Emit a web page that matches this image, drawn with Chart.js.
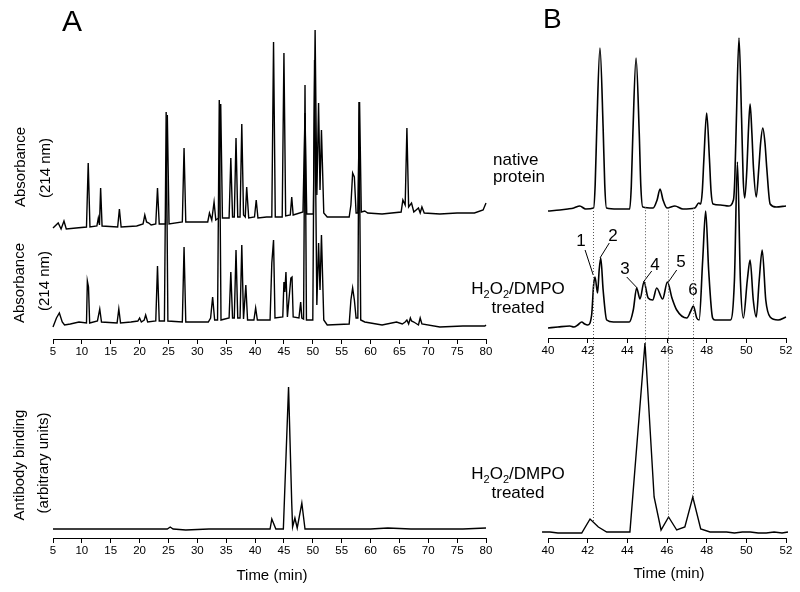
<!DOCTYPE html>
<html>
<head>
<meta charset="utf-8">
<script src="https://cdn.jsdelivr.net/npm/chart.js@4"></script>
<style>
  body { margin: 0; background: #fff; }
  #wrap { position: relative; width: 800px; height: 592px; overflow: hidden; font-family: "Liberation Sans", Arial, sans-serif; color: #000; }
  canvas { position: absolute; top: 0; }
  .t { position: absolute; white-space: nowrap; line-height: 1; }
  .c { position: absolute; text-align: center; width: 140px; font-size: 17px; line-height: 17px; white-space: nowrap; }
  .r { position: absolute; white-space: nowrap; font-size: 15px; line-height: 15px; transform: translate(-50%, -50%) rotate(-90deg); }
  sub { font-size: 11px; line-height: 0; vertical-align: -4px; }
</style>
</head>
<body>
<div id="wrap">
  <canvas id="aTop" width="500" height="362" style="left:0"></canvas>
  <canvas id="aBottom" width="500" height="561" style="left:0"></canvas>
  <canvas id="bTop" width="300" height="361" style="left:500px"></canvas>
  <canvas id="bBottom" width="300" height="561" style="left:500px"></canvas>

  <div class="t" style="left:62px;top:6px;font-size:30px">A</div>
  <div class="t" style="left:543px;top:5px;font-size:28px">B</div>

  <div class="r" style="left:19px;top:167px">Absorbance</div>
  <div class="r" style="left:44px;top:168px">(214 nm)</div>
  <div class="r" style="left:18px;top:283px">Absorbance</div>
  <div class="r" style="left:43px;top:281px">(214 nm)</div>
  <div class="r" style="left:17.5px;top:465px">Antibody binding</div>
  <div class="r" style="left:42px;top:463px">(arbitrary units)</div>

  <div class="t" style="left:493px;top:151px;font-size:17px;line-height:17px">native<br>protein</div>
  <div class="c" style="left:448px;top:280px">H<sub>2</sub>O<sub>2</sub>/DMPO</div>
  <div class="c" style="left:448px;top:299px">treated</div>
  <div class="c" style="left:448px;top:465px">H<sub>2</sub>O<sub>2</sub>/DMPO</div>
  <div class="c" style="left:448px;top:484px">treated</div>

  <div class="t" style="left:172px;width:200px;text-align:center;top:567px;font-size:15px">Time (min)</div>
  <div class="t" style="left:569px;width:200px;text-align:center;top:565px;font-size:15px">Time (min)</div>
</div>

<script>
const FONT = '"Liberation Sans", Arial, sans-serif';

// Panel A, absorbance at 214 nm (arbitrary units), time in min
const nativeATime = [5.0, 5.9, 6.4, 6.9, 7.3, 9.0, 10.8, 11.1, 11.4, 12.6, 12.85, 13.05, 13.25, 13.5, 16.2, 16.5, 16.8,
  19.5, 20.6, 20.9, 21.2, 21.6, 22.0, 22.8, 23.1, 23.4, 24.5, 24.8, 25.1, 27.4, 27.7, 28.0, 31.8, 32.1, 32.5, 32.9, 33.2,
  33.7, 34.05, 34.35, 35.5, 35.8, 36.1, 36.4, 36.7, 37.0, 37.4, 37.7, 38.0, 38.3, 38.55, 38.9, 39.9, 40.2, 40.5, 42.0,
  42.9, 43.2, 43.5, 44.7, 45.0, 45.3, 46.1, 46.35, 46.6, 48.3, 48.65, 48.95, 50.1, 50.4, 50.7, 51.0, 51.25, 51.5, 51.9,
  52.5, 56.3, 56.6, 56.9, 57.2, 57.5, 57.8, 58.1, 58.4, 59.0, 59.5, 62.0, 65.3, 65.6, 66.0, 66.3, 66.6, 67.1, 67.5,
  68.3, 68.6, 68.9, 69.3, 72.0, 75.0, 78.0, 79.5, 80.0, 80.3, 80.6, 81.0];
const nativeAAbs = [11, 16, 10, 18, 10, 11, 12, 76, 12, 13, 21, 14, 51, 13, 12, 30, 12,
  13, 15, 24, 17, 16, 14, 15, 51, 15, 15, 124, 15, 17, 91, 17, 17, 26, 19, 37, 19,
  21, 135, 21, 21, 81, 22, 22, 101, 22, 22, 115, 24, 22, 52, 21, 22, 39, 21, 22,
  22, 197, 22, 22, 186, 23, 24, 42, 24, 27, 126, 25, 25, 209, 44, 136, 49, 109, 26,
  22, 22, 34, 66, 62, 26, 26, 137, 27, 28, 26, 25, 27, 39, 34, 111, 32, 36, 27,
  31, 26, 32, 26, 25, 26, 26, 29, 36, 31, 34, 27];

const treatedATime = [5.0, 5.6, 6.1, 6.6, 7.0, 8.0, 9.5, 10.8, 10.95, 11.15, 11.35, 12.7, 13.1, 13.4, 16.1, 16.4, 16.7,
  18.5, 19.7, 20.0, 20.3, 20.8, 21.05, 21.4, 22.8, 23.1, 23.4, 24.3, 24.6, 24.9, 27.4, 27.7, 28.0, 31.9, 32.3, 32.65,
  33.0, 33.5, 33.8, 34.1, 35.5, 35.8, 36.1, 36.4, 36.7, 37.0, 37.4, 37.7, 38.0, 38.4, 38.7, 39.8, 40.1, 40.4, 42.6,
  42.9, 43.2, 43.45, 44.8, 45.0, 45.15, 45.35, 45.6, 46.2, 46.4, 46.6, 47.6, 47.9, 48.1, 48.4, 48.65, 48.9, 50.0,
  50.3, 50.7, 51.0, 51.25, 51.5, 51.9, 52.5, 56.3, 56.6, 56.9, 57.2, 57.5, 57.8, 58.0, 58.3, 59.0, 62.0, 64.5, 65.5,
  66.0, 66.3, 66.6, 66.9, 67.1, 67.5, 68.3, 68.6, 68.9, 72.0, 76.0, 79.8, 80.0, 80.4, 81.0];
const treatedAAbs = [12, 21, 26, 17, 14, 15, 17, 16, 58, 52, 16, 18, 30, 17, 16, 30, 16,
  17, 18, 21, 17, 19, 24, 17, 18, 73, 18, 18, 227, 18, 17, 92, 17, 17, 21, 42,
  19, 19, 239, 19, 21, 67, 21, 21, 89, 21, 21, 94, 20, 54, 19, 19, 31, 19, 19,
  76, 99, 21, 22, 57, 47, 67, 22, 61, 62, 22, 21, 37, 21, 20, 254, 19, 19,
  279, 34, 96, 49, 104, 19, 14, 15, 39, 51, 39, 21, 21, 237, 19, 17, 14, 17, 15,
  17, 19, 15, 21, 18, 17, 14, 21, 15, 12, 13, 13, 14, 12, 12];

// Panel A, antibody binding (arbitrary units)
const bindingATime = [5.0, 8.0, 11.0, 14.0, 18.0, 22.0, 24.8, 25.3, 25.8, 28.0, 32.0, 36.0, 40.0, 42.6, 42.9, 43.6,
  44.9, 45.8, 46.35, 46.5, 46.9, 47.3, 48.1, 48.65, 52.0, 56.0, 60.0, 63.0, 67.0, 72.0, 76.0, 80.0];
const bindingA = [9, 9, 9, 9, 9, 9, 9, 11, 9, 8, 9, 9, 9, 9, 19, 9,
  9, 151, 35, 11, 20, 10, 35, 9, 9, 9, 9, 10, 9, 9, 9, 10];

// Panel B, 40-52 min detail
const nativeBTime = [40.0, 40.6, 41.0, 41.3, 41.6, 41.9, 42.3, 42.38, 42.46, 42.62, 42.78, 42.86, 42.95, 43.5, 44.12,
  44.2, 44.28, 44.44, 44.6, 44.68, 44.78, 45.3, 45.5, 45.65, 45.8, 46.0, 46.4, 46.8, 47.4, 47.6, 47.7, 47.78, 47.86,
  48.0, 48.14, 48.22, 48.32, 48.7, 49.1, 49.35, 49.42, 49.5, 49.63, 49.76, 49.84, 49.92, 50.03, 50.1, 50.19, 50.28,
  50.36, 50.5, 50.63, 50.72, 50.83, 50.94, 51.03, 51.2, 51.5, 52.0];
const nativeBAbs = [27, 28, 29, 30, 32, 29, 30, 54, 110, 190, 110, 54, 30, 29, 29,
  52, 105, 180, 105, 52, 31, 30, 38, 49, 38, 30, 32, 29, 30, 35, 34, 47, 79,
  125, 79, 47, 34, 33, 32, 38, 60, 120, 200, 120, 60, 40, 70, 105, 134, 105,
  70, 41, 70, 95, 110, 95, 70, 34, 31, 32];

const treatedBTime = [40.0, 40.5, 41.1, 41.3, 41.5, 41.7, 41.85, 42.0, 42.2, 42.3, 42.37, 42.5, 42.58, 42.66, 42.78,
  42.96, 43.3, 44.1, 44.3, 44.47, 44.64, 44.84, 45.05, 45.28, 45.48, 45.78, 46.02, 46.25, 46.49, 47.0, 47.2, 47.33,
  47.5, 47.62, 47.8, 47.95, 48.1, 48.3, 48.42, 49.2, 49.4, 49.55, 49.7, 49.85, 50.05, 50.19, 50.35, 50.5, 50.65,
  50.8, 50.98, 51.2, 51.6, 52.0];
const treatedBAbs = [10, 11, 12, 11, 13, 16, 14, 13, 23, 53, 61, 45, 68, 80, 48,
  18, 16, 16, 28, 50, 39, 56, 40, 38, 50, 39, 56, 40, 28, 20, 27, 32,
  20, 18, 78, 127, 68, 20, 18, 18, 58, 176, 58, 20, 58, 78, 38, 21, 58,
  88, 38, 21, 18, 21];

const bindingBTime = [39.35, 39.7, 40.1, 40.5, 40.9, 41.3, 41.7, 42.12, 42.54, 42.96, 43.35, 43.75, 44.13, 44.89,
  45.35, 45.7, 46.08, 46.49, 46.9, 47.3, 47.7, 48.17, 48.6, 49.0, 49.4, 49.8, 50.2, 50.6, 51.0, 51.4, 51.8, 52.1];
const bindingB = [6, 6, 6, 5, 5, 5, 5, 19, 11, 6, 6, 6, 6, 195,
  41, 8, 21, 8, 11, 41, 9, 6, 6, 6, 5, 6, 6, 5, 5, 6, 5, 6];

// peaks 1-6 and the dotted guide lines
const peakLabels = ['1', '2', '3', '4', '5', '6'];
const peakLabelTime = [41.66, 43.28, 43.88, 45.40, 46.71, 47.31];
const peakLabelLevel = [97, 102, 69, 73, 76, 48];
const leaderFrom = [[41.87, 88], [43.09, 95], [43.97, 61], [45.23, 67], [46.49, 68], null];
const leaderTo = [[42.28, 63], [42.62, 80], [44.5, 50], [44.81, 56], [46.07, 56], null];
const markerTimes = [42.29, 44.9, 46.07, 47.33];

const nativeOffset = 100;

function trace(times, values, offset, smooth) {
  return {
    data: times.map((t, i) => ({ x: t, y: values[i] + offset })),
    borderColor: '#000',
    borderWidth: smooth ? 1.6 : 1.4,
    pointRadius: 0,
    fill: false,
    clip: false,
    tension: 0,
    cubicInterpolationMode: smooth ? 'monotone' : 'default'
  };
}

function valueAt(times, values, t) {
  for (let i = 1; i < times.length; i++) {
    if (times[i] >= t) {
      const f = (t - times[i - 1]) / (times[i] - times[i - 1]);
      return values[i - 1] + f * (values[i] - values[i - 1]);
    }
  }
  return values[values.length - 1];
}

function chart(element, datasets, axis, padding, plugins = []) {
  const ctx = document.querySelector(element).getContext('2d');
  return new Chart(ctx, {
    type: 'line',
    data: { datasets: datasets },
    options: {
      responsive: false,
      animation: false,
      events: [],
      layout: { padding: padding },
      plugins: { legend: { display: false }, tooltip: { enabled: false } },
      scales: {
        x: {
          type: 'linear',
          min: axis.min,
          max: axis.max,
          afterFit: s => { s.height = 23; },
          ticks: { stepSize: axis.step, color: '#000', padding: 1, maxRotation: 0, autoSkip: false,
                   font: { family: FONT, size: 11.5 } },
          grid: { drawOnChartArea: false, tickLength: 5, color: '#000' },
          border: { color: '#000', width: 1 }
        },
        y: { display: false, min: 0, max: axis.ymax }
      }
    },
    plugins: plugins
  });
}

const peakLabelPlugin = {
  id: 'peakLabels',
  afterDatasetsDraw(c) {
    const ctx = c.ctx, x = c.scales.x, y = c.scales.y;
    ctx.save();
    ctx.fillStyle = '#000';
    ctx.strokeStyle = '#000';
    ctx.lineWidth = 1;
    ctx.font = '17px ' + FONT;
    ctx.textAlign = 'center';
    ctx.textBaseline = 'middle';
    peakLabels.forEach((lab, i) => {
      ctx.fillText(lab, x.getPixelForValue(peakLabelTime[i]), y.getPixelForValue(peakLabelLevel[i]));
      if (leaderFrom[i]) {
        ctx.beginPath();
        ctx.moveTo(x.getPixelForValue(leaderFrom[i][0]), y.getPixelForValue(leaderFrom[i][1]));
        ctx.lineTo(x.getPixelForValue(leaderTo[i][0]), y.getPixelForValue(leaderTo[i][1]));
        ctx.stroke();
      }
    });
    ctx.restore();
  }
};

chart('#aTop', [
  trace(nativeATime, nativeAAbs, nativeOffset, false),
  trace(treatedATime, treatedAAbs, 0, false)
], { min: 5, max: 80, step: 5, ymax: 319 }, { top: 20, left: 53, right: 14, bottom: 0 });

chart('#aBottom', [trace(bindingATime, bindingA, 0, false)],
  { min: 5, max: 80, step: 5, ymax: 168 }, { top: 370, left: 53, right: 14, bottom: 0 });

const bTop = chart('#bTop', [
  trace(nativeBTime, nativeBAbs, nativeOffset, true),
  trace(treatedBTime, treatedBAbs, 0, true)
], { min: 40, max: 52, step: 2, ymax: 318 }, { top: 20, left: 48, right: 14, bottom: 0 }, [peakLabelPlugin]);

const markerPlugin = {
  id: 'markers',
  afterDatasetsDraw(c) {
    const ctx = c.ctx, x = c.scales.x, y = c.scales.y, yTop = bTop.scales.y;
    ctx.save();
    ctx.strokeStyle = '#555';
    ctx.lineWidth = 1;
    ctx.setLineDash([1, 2]);
    markerTimes.forEach(t => {
      const px = Math.round(x.getPixelForValue(t)) + 0.5;
      ctx.beginPath();
      ctx.moveTo(px, yTop.getPixelForValue(valueAt(nativeBTime, nativeBAbs, t) + nativeOffset));
      ctx.lineTo(px, y.getPixelForValue(valueAt(bindingBTime, bindingB, t)));
      ctx.stroke();
    });
    ctx.restore();
  }
};

chart('#bBottom', [trace(bindingBTime, bindingB, 0, false)],
  { min: 40, max: 52, step: 2, ymax: 198 }, { top: 340, left: 48, right: 14, bottom: 0 }, [markerPlugin]);
</script>
</body>
</html>
